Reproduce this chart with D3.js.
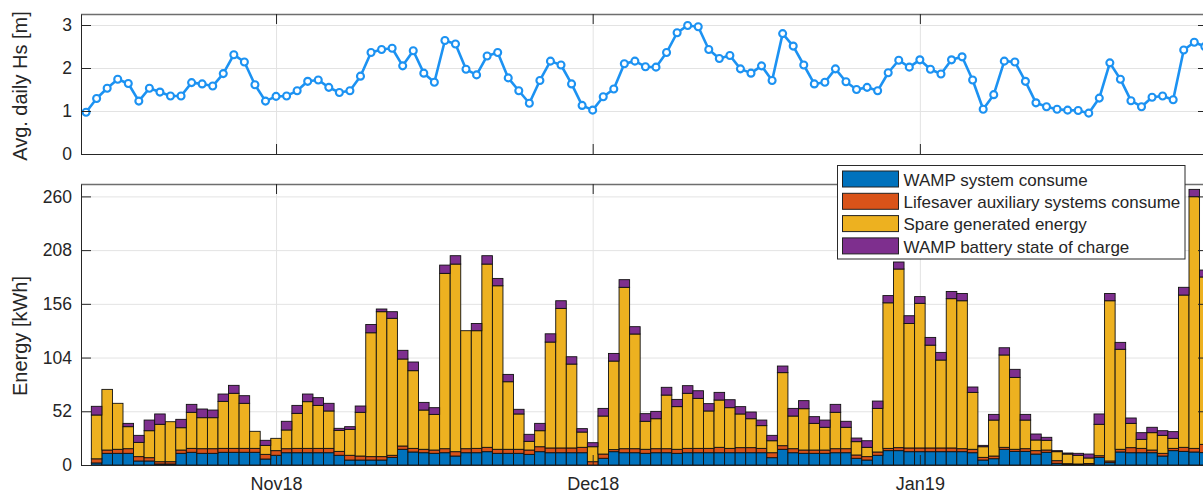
<!DOCTYPE html>
<html><head><meta charset="utf-8">
<script src="https://cdn.jsdelivr.net/npm/d3@7"></script>
<style>
body{margin:0;background:#fff;overflow:hidden}
svg{display:block;font-family:Arial,"Liberation Sans",sans-serif}
</style>
</head><body><svg id="c" width="1203" height="493"></svg>
<script>
// ---------- data ----------
const hsStart = "2018-10-14";
const hsValues = [0.97,1.29,1.53,1.74,1.64,1.23,1.53,1.44,1.35,1.35,
  1.66,1.63,1.58,1.87,2.31,2.14,1.61,1.23,1.34,1.35,
  1.47,1.69,1.72,1.55,1.43,1.47,1.81,2.36,2.43,2.46,
  2.05,2.40,1.88,1.67,2.64,2.56,1.97,1.84,2.28,2.36,
  1.77,1.47,1.18,1.71,2.16,2.07,1.63,1.13,1.02,1.33,
  1.51,2.10,2.16,2.03,2.02,2.36,2.82,2.99,2.96,2.43,
  2.22,2.29,1.98,1.88,2.05,1.71,2.80,2.51,2.07,1.63,
  1.67,1.98,1.68,1.50,1.55,1.47,1.89,2.18,2.02,2.19,
  1.97,1.86,2.19,2.26,1.72,1.04,1.38,2.16,2.14,1.69,
  1.19,1.10,1.04,1.02,1.01,0.95,1.30,2.12,1.74,1.24,
  1.10,1.32,1.35,1.26,2.42,2.60,2.50];

const barStart = "2018-10-15";
const wampConsume = [2,11.3,11.3,11.3,3.9,3.9,1,1,11.3,12.3,
  11.3,11.3,12.3,12.3,12.3,12.3,5.8,9.4,11.9,11.9,
  11.9,11.9,11.9,9.4,4.8,4.8,4.8,4.8,7.4,15.2,
  12.6,11.9,11.3,11.9,8.7,11.9,11.9,12.9,11.3,11.3,
  11.3,10.3,12.9,11.9,11.9,11.9,11.9,0,6.5,12.9,
  11.9,11.9,11.3,11.9,11.9,11.3,11.9,11.9,11.9,11.9,
  11.9,11.9,11.9,11.9,7.1,15.2,11.9,11.3,11.3,11.3,
  11.9,11.9,6.5,4.8,9.4,13.9,13.9,12.9,12.9,12.9,
  12.9,12.9,12.9,11.9,4.8,6.1,15.2,13.2,13.2,10.6,
  12.3,1.6,0.6,0.3,0.3,7.4,2.3,12.6,11.9,11.9,
  11.9,8.7,13.9,13.2,12.6,12];
const lifesaverConsume = [4,3.2,3.9,4.5,4.2,3.2,2.2,2.2,3.2,3.8,
  4.5,4.5,3.8,3.8,3.8,3.8,4.5,4.5,3.9,4.2,
  4.2,4.2,4.2,3.8,4.6,3.9,3.3,3.3,2,3.2,
  3.5,3.3,3.2,3.9,4.2,3.9,4.2,4.2,3.9,3.9,
  3.9,4.2,4.8,4.6,4.6,4.6,5.2,3.2,4.1,2,
  3.9,3.9,3.9,3.9,3.9,3.9,4.2,4.2,4.2,5.2,
  4.2,4.9,4.9,4.2,4.8,3.5,3.9,3.2,3.2,3.2,
  3.9,3.9,3.2,3.3,3.2,2.2,2.9,3.6,3.6,3.6,
  3.6,3.6,2.9,3.3,2.6,2.6,1.9,2,2.6,3.3,
  2.2,2.6,0.7,0.7,1.2,1.6,1.6,2.6,4.9,4.2,
  2.6,2.6,2.2,3.9,3.5,8];
const spareEnergy = [42.4,58.7,44.5,21.3,13.8,26.1,36.2,38.7,21.6,34.9,
  30,30,45.5,53.3,43.6,16.5,8.7,11.9,18.1,33.9,
  45.2,41.6,36.2,20.3,25.1,42.3,119.9,140.3,132.6,84.2,
  75.2,38,34.5,169.7,181.6,114.2,113.9,177.4,158.3,65.4,
  34.2,8.4,15.5,102.5,135.1,81.2,14.8,14.5,36.8,85.7,
  156.2,111,27.1,29,51.9,41.3,53.3,48.4,36.2,45.8,
  39.4,32.6,28,22,11.6,70.7,31.6,40,25.8,22,
  35.2,20.7,12.9,9,42.2,140.9,172.9,120.5,140,99.5,
  85.1,144.5,143.2,55.1,10.3,34.8,89.4,69.6,27.7,10.3,
  9.4,8.7,9.3,8.4,5.3,30.4,155.1,96.8,23.5,8.7,
  16.8,17.4,9.7,147.4,243.6,162];
const batterySoc = [8.4,0,0,3.2,6.8,10.3,10,0,8.1,7.7,
  8.4,7.4,7.1,7.7,7.4,0,4.9,0,8.4,7.7,
  7.4,7.5,7.4,2,2.6,6.1,8,2.6,6.4,8.4,
  8.4,7.4,6.5,8,8.1,0,7,8.1,7.1,7.1,
  4.5,6.8,7.1,8,7.4,7.1,3.3,3.9,7.4,7.4,
  7.4,7.1,7.4,7.1,7.5,7,7.4,7.4,7.1,7.4,
  7.7,7.1,6.5,5.4,5.2,6.4,7.4,7.8,6.5,7,
  7.7,5.8,3.5,6.4,7.1,7,6.8,7.5,6.5,7.5,
  7.4,7,7,5.2,1.3,5.5,7,7.8,5.5,5.8,
  2.9,1,1,1.9,3.8,10,7,6.7,5.2,6.5,
  5.2,4.5,6.5,7.5,7.1,6.7];

const seriesNames = ["WAMP system consume","Lifesaver auxiliary systems consume","Spare generated energy","WAMP battery state of charge"];
const seriesColors = ["#0072BD","#D95319","#EDB120","#7E2F8E"];
const monthTicks = ["2018-11-01","2018-12-01","2019-01-01"];
const monthLabels = ["Nov18","Dec18","Jan19"];
const hsTicks = [0,1,2,3];
const energyTicks = [0,52,104,156,208,260];
const hsLabel = "Avg. daily Hs [m]";
const energyLabel = "Energy [kWh]";

// ---------- setup ----------
const parse = d3.utcParse("%Y-%m-%d");
const svg = d3.select("#c");
const L = 81, R = 1208;
const x = d3.scaleUtc()
  .domain([new Date(Date.UTC(2018,9,13,12,30)), new Date(Date.UTC(2019,0,28,7,12))])
  .range([L, R]);
const monthDates = monthTicks.map(parse);
const fmtMonth = d => monthLabels[monthDates.findIndex(m => +m === +d)];

const pTop = {y0: 14, y1: 154};
const pBot = {y0: 184, y1: 465};
const yHs = d3.scaleLinear().domain([0, 3.256]).range([pTop.y1, pTop.y0]);
const yE = d3.scaleLinear().domain([0, 272]).range([pBot.y1, pBot.y0]);

const defs = svg.append("defs");
defs.append("clipPath").attr("id","clipTop").append("rect")
  .attr("x",L).attr("y",pTop.y0-6).attr("width",R-L).attr("height",pTop.y1-pTop.y0+6);
defs.append("clipPath").attr("id","clipBot").append("rect")
  .attr("x",L).attr("y",pBot.y0).attr("width",R-L).attr("height",pBot.y1-pBot.y0);

const gridColor = "#e3e3e3";
const axisColor = "#262626";

function grid(panel, yScale, ticks){
  const g = svg.append("g");
  g.append("g").attr("transform",`translate(${L},0)`)
    .call(d3.axisLeft(yScale).tickValues(ticks).tickSize(-(R-L)).tickFormat(""))
    .call(s => { s.select(".domain").remove(); s.selectAll("line").attr("stroke",gridColor).attr("stroke-width",1); });
  g.append("g").attr("transform",`translate(0,${panel.y1})`)
    .call(d3.axisBottom(x).tickValues(monthDates).tickSize(-(panel.y1-panel.y0)).tickFormat(""))
    .call(s => { s.select(".domain").remove(); s.selectAll("line").attr("stroke",gridColor).attr("stroke-width",1); });
}
function frame(panel, yScale, ticks, withLabels){
  svg.append("line").attr("x1",L).attr("x2",R).attr("y1",panel.y0+0.5).attr("y2",panel.y0+0.5)
    .attr("stroke","#6e6e6e").attr("stroke-width",1.3);
  svg.append("g").attr("transform",`translate(0,${panel.y0})`)
    .call(d3.axisTop(x).tickValues(monthDates).tickSizeInner(-10).tickSizeOuter(0).tickFormat(""))
    .call(s => { s.select(".domain").remove(); s.selectAll("line").attr("stroke",axisColor); });
  svg.append("g").attr("transform",`translate(${R},0)`)
    .call(d3.axisRight(yScale).tickValues(ticks).tickSizeInner(-10).tickSizeOuter(0).tickFormat(""))
    .call(s => { s.select(".domain").attr("stroke",axisColor); s.selectAll("line").attr("stroke",axisColor); });
  svg.append("g").attr("transform",`translate(${L},0)`)
    .call(d3.axisLeft(yScale).tickValues(ticks).tickSizeInner(-10).tickSizeOuter(0).tickPadding(9).tickFormat(d3.format("d")))
    .call(s => {
      s.select(".domain").attr("stroke",axisColor);
      s.selectAll("line").attr("stroke",axisColor);
      s.selectAll("text").attr("fill","#262626").style("font-size","17.5px").attr("font-family","Arial, 'Liberation Sans', sans-serif");
    });
  const ax = d3.axisBottom(x).tickValues(monthDates).tickSizeInner(-10).tickSizeOuter(0).tickPadding(12)
    .tickFormat(withLabels ? fmtMonth : "");
  svg.append("g").attr("transform",`translate(0,${panel.y1})`)
    .call(ax)
    .call(s => {
      s.select(".domain").attr("stroke",axisColor);
      s.selectAll("line").attr("stroke",axisColor);
      s.selectAll("text").attr("fill","#262626").style("font-size","18px").attr("font-family","Arial, 'Liberation Sans', sans-serif");
    });
}

// ---------- top panel ----------
grid(pTop, yHs, [1,2,3]);
const hsData = hsValues.map((v,i) => ({date: d3.utcDay.offset(parse(hsStart), i), v}));
const gTop = svg.append("g").attr("clip-path","url(#clipTop)");
const lineColor = "#1c92f2";
gTop.append("path").datum(hsData)
  .attr("fill","none").attr("stroke",lineColor).attr("stroke-width",2.6).attr("stroke-linejoin","round")
  .attr("d", d3.line().x(d => x(d.date)).y(d => yHs(d.v)));
gTop.selectAll("circle").data(hsData).join("circle")
  .attr("cx", d => x(d.date)).attr("cy", d => yHs(d.v)).attr("r",3.5)
  .attr("fill","#fff").attr("stroke",lineColor).attr("stroke-width",2.1);
frame(pTop, yHs, hsTicks, false);

// ---------- bottom panel ----------
grid(pBot, yE, [52,104,156,208,260]);
const keys = ["wamp","life","spare","soc"];
const barData = wampConsume.map((v,i) => ({
  date: d3.utcDay.offset(parse(barStart), i),
  wamp: v, life: lifesaverConsume[i], spare: spareEnergy[i], soc: batterySoc[i]
}));
const stacked = d3.stack().keys(keys)(barData);
const gBot = svg.append("g").attr("clip-path","url(#clipBot)");
stacked.forEach((layer, k) => {
  gBot.append("g").attr("fill", seriesColors[k])
    .selectAll("rect").data(layer).join("rect")
    .attr("x", d => { const c = x(d.data.date); const w = x(d3.utcDay.offset(d.data.date,1)) - c; return c - w/2; })
    .attr("width", d => x(d3.utcDay.offset(d.data.date,1)) - x(d.data.date))
    .attr("y", d => yE(d[1]))
    .attr("height", d => Math.max(0, yE(d[0]) - yE(d[1])))
    .attr("stroke","#111").attr("stroke-width",0.9);
});
frame(pBot, yE, energyTicks, true);

// ---------- axis titles ----------
svg.append("text").attr("transform","translate(27,86) rotate(-90)")
  .attr("text-anchor","middle").attr("fill","#262626").style("font-size","20px").text(hsLabel);
svg.append("text").attr("transform","translate(27,336) rotate(-90)")
  .attr("text-anchor","middle").attr("fill","#262626").style("font-size","20px").text(energyLabel);

// ---------- legend ----------
const lg = svg.append("g");
lg.append("rect").attr("x",837.5).attr("y",165.5).attr("width",347.5).attr("height",93.5)
  .attr("fill","#fff").attr("stroke","#2b2b2b").attr("stroke-width",1);
seriesNames.forEach((name, i) => {
  const yy = 171 + i*22.3;
  lg.append("rect").attr("x",842.5).attr("y",yy).attr("width",56).attr("height",16)
    .attr("fill",seriesColors[i]).attr("stroke","#222").attr("stroke-width",1);
  lg.append("text").attr("x",903.5).attr("y",yy+14.8).attr("fill","#262626")
    .style("font-size","17px").text(name);
});
</script>
</body></html>
